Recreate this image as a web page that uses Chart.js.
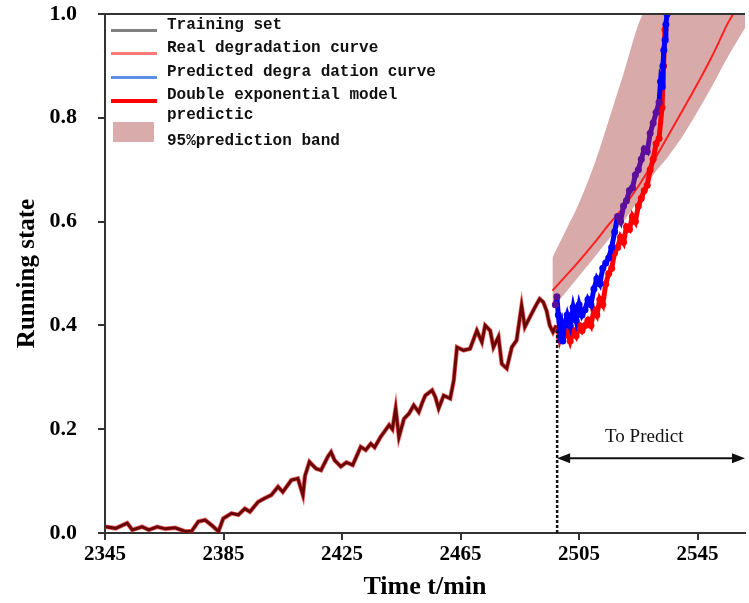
<!DOCTYPE html>
<html>
<head>
<meta charset="utf-8">
<script src="https://cdn.jsdelivr.net/npm/chart.js@4.4.1/dist/chart.umd.min.js"></script>
<style>
  html, body { margin: 0; padding: 0; background: #fff; }
  #wrap { position: relative; width: 749px; height: 603px; overflow: hidden; }
  #legend { position: absolute; left: 0; top: 0; font-family: "Liberation Mono", monospace; font-weight: bold; font-size: 16px; color: #111; }
  .row { position: absolute; left: 167px; white-space: nowrap; line-height: 20px; }
  .swatch { position: absolute; }
</style>
</head>
<body>
<div id="wrap">
  <canvas id="chart" width="749" height="603"></canvas>
  <div id="legend"></div>
</div>
<script>
// training period (t/min, running state)
const trainTime = [2345.2, 2348.6, 2352.5, 2354.2, 2357.5, 2359.8, 2362.6, 2365.4, 2368.7, 2372.1,
  2374.3, 2376.5, 2378.8, 2381, 2383.3, 2384.9, 2387.7, 2390, 2392.2, 2393.9,
  2396.7, 2398.9, 2401.1, 2403.4, 2405, 2407.9, 2410.1, 2411.8, 2412.5, 2414,
  2416.2, 2417.9, 2420.2, 2421.3, 2422.5, 2424.6, 2426.5, 2428.6, 2431.3, 2433,
  2434.7, 2436, 2438, 2440.9, 2442, 2443.1, 2444.2, 2445.9, 2447.6, 2449.2,
  2450.9, 2452, 2453.1, 2455.4, 2456.5, 2457.6, 2459.3, 2461.5, 2462.7, 2463.8,
  2466, 2468.2, 2470.5, 2472.2, 2473.3, 2475, 2476.1, 2477.8, 2478.9, 2480.6,
  2482.3, 2483.9, 2485.6, 2486.7, 2488.4, 2490.1, 2491.7, 2492.9, 2494, 2495.1,
  2496.2, 2497.3];
const trainValue = [0.012, 0.009, 0.019, 0.006, 0.012, 0.006, 0.012, 0.008, 0.010, 0.003,
  0.004, 0.022, 0.025, 0.015, 0.003, 0.028, 0.038, 0.035, 0.047, 0.041,
  0.060, 0.067, 0.073, 0.089, 0.079, 0.102, 0.105, 0.073, 0.110, 0.137,
  0.124, 0.121, 0.147, 0.156, 0.140, 0.128, 0.136, 0.131, 0.166, 0.160,
  0.172, 0.165, 0.185, 0.208, 0.200, 0.240, 0.185, 0.220, 0.230, 0.246,
  0.233, 0.250, 0.265, 0.275, 0.262, 0.240, 0.265, 0.259, 0.294, 0.358,
  0.352, 0.355, 0.390, 0.368, 0.400, 0.390, 0.358, 0.378, 0.326, 0.317,
  0.358, 0.371, 0.438, 0.397, 0.416, 0.435, 0.451, 0.445, 0.429, 0.400,
  0.387, 0.400];

// real degradation after the split
const realTime = [2498, 2498.5, 2499, 2500, 2501, 2502, 2503, 2504, 2505, 2506, 2507, 2508, 2509, 2510,
  2511, 2512, 2513, 2514, 2515, 2516, 2517, 2518, 2519, 2520, 2521, 2522, 2523, 2524,
  2525, 2526, 2527, 2528, 2529, 2530, 2531, 2532, 2533, 2533.5, 2534];
const realValue = [0.39, 0.375, 0.385, 0.38, 0.39, 0.37, 0.39, 0.38, 0.40, 0.39, 0.40, 0.41, 0.40, 0.43,
  0.42, 0.45, 0.44, 0.48, 0.50, 0.51, 0.54, 0.55, 0.57, 0.56, 0.59, 0.585, 0.61, 0.60,
  0.63, 0.645, 0.66, 0.67, 0.70, 0.72, 0.75, 0.76, 0.82, 0.90, 0.97];

// predicted degradation
const predTime = [2497, 2497.5, 2498, 2498.5, 2499, 2499.5, 2500, 2501, 2502, 2503, 2504, 2505, 2506,
  2507, 2508, 2509, 2510, 2511, 2512, 2513, 2514, 2515, 2516, 2517, 2518, 2519, 2520,
  2521, 2522, 2523, 2524, 2525, 2526, 2527, 2528, 2529, 2530, 2531, 2532, 2532.5, 2533,
  2533.3, 2533.6, 2534, 2534.3, 2534.7];
const predValue = [0.44, 0.455, 0.42, 0.39, 0.40, 0.37, 0.40, 0.42, 0.40, 0.435, 0.41, 0.44, 0.42,
  0.43, 0.45, 0.44, 0.47, 0.49, 0.48, 0.51, 0.52, 0.53, 0.55, 0.58, 0.61, 0.60, 0.63,
  0.64, 0.66, 0.665, 0.69, 0.70, 0.72, 0.74, 0.735, 0.77, 0.79, 0.81, 0.83, 0.87, 0.86,
  0.90, 0.93, 0.95, 0.98, 1.0];

// double exponential model and its 95% band
const modelTime = [2496, 2500, 2505, 2510, 2515, 2520, 2525, 2530, 2535, 2540, 2545, 2550, 2555, 2557, 2561];
const modelValue = [0.467, 0.492, 0.524, 0.558, 0.594, 0.628, 0.668, 0.715, 0.765, 0.815, 0.866, 0.92, 0.98, 1.0, 1.045];
const bandTime = [2496, 2500, 2505, 2510, 2515, 2520, 2526.5, 2530, 2535, 2540, 2545, 2550, 2555, 2561];
const bandUpper = [0.531, 0.577, 0.636, 0.708, 0.795, 0.885, 1.0, 1.0, 1.0, 1.0, 1.0, 1.0, 1.0, 1.0];
const bandLower = [0.435, 0.46, 0.495, 0.53, 0.566, 0.60, 0.655, 0.69, 0.725, 0.765, 0.812, 0.862, 0.915, 0.973];

const splitTime = 2497.6;
const splitTop = 0.39;
const arrowLevel = 0.144;
const noteLevel = 0.185;
const noteTime = 2527;

const xTickValues = [2345, 2385, 2425, 2465, 2505, 2545];
const overlapRange = [2517.5, 2532.2];

function zip(xs, ys) {
  return xs.map((x, i) => ({ x: x, y: ys[i] }));
}

const legendItems = [
  { label: "Training set", kind: "line", color: "#808080", width: 3 },
  { label: "Real degradation curve", kind: "line", color: "#ff7a7a", width: 3 },
  { label: "Predicted degra dation curve", kind: "line", color: "#5b8fe8", width: 3 },
  { label: "Double exponential model<br>predictic", kind: "line", color: "#ff0000", width: 4 },
  { label: "95%prediction band", kind: "box", color: "#d9abab" },
];

const legend = document.getElementById("legend");
let rowTop = 15;
legendItems.forEach((item) => {
  const row = document.createElement("div");
  row.className = "row";
  row.style.top = rowTop + "px";
  row.innerHTML = item.label;
  legend.appendChild(row);
  const sw = document.createElement("div");
  sw.className = "swatch";
  sw.style.background = item.color;
  if (item.kind === "line") {
    sw.style.left = "111px";
    sw.style.width = "46px";
    sw.style.height = item.width + "px";
    sw.style.top = (rowTop + 14) + "px";
  } else {
    sw.style.left = "113px";
    sw.style.width = "41px";
    sw.style.height = "20px";
    sw.style.top = (rowTop - 9) + "px";
  }
  legend.appendChild(sw);
  rowTop += item.label.includes("<br>") ? 46.5 : 23.3;
});

const inOverlap = (x) => x <= 2497.5 || (x >= overlapRange[0] && x <= overlapRange[1]);

const extras = {
  id: "extras",
  afterDatasetsDraw(chart) {
    const { ctx, chartArea, scales } = chart;
    const x = scales.x, y = scales.y;
    ctx.save();
    // top frame
    ctx.strokeStyle = "#333";
    ctx.lineWidth = 2;
    ctx.beginPath();
    ctx.moveTo(chartArea.left, chartArea.top);
    ctx.lineTo(chartArea.right, chartArea.top);
    ctx.stroke();
    // double arrow
    const ax0 = x.getPixelForValue(splitTime);
    const ax1 = chartArea.right;
    const ay = y.getPixelForValue(arrowLevel);
    ctx.strokeStyle = "#111";
    ctx.fillStyle = "#111";
    ctx.lineWidth = 2;
    ctx.beginPath();
    ctx.moveTo(ax0 + 4, ay);
    ctx.lineTo(ax1 - 4, ay);
    ctx.stroke();
    ctx.beginPath();
    ctx.moveTo(ax0, ay);
    ctx.lineTo(ax0 + 13, ay - 5);
    ctx.lineTo(ax0 + 13, ay + 5);
    ctx.closePath();
    ctx.fill();
    ctx.beginPath();
    ctx.moveTo(ax1, ay);
    ctx.lineTo(ax1 - 13, ay - 5);
    ctx.lineTo(ax1 - 13, ay + 5);
    ctx.closePath();
    ctx.fill();
    ctx.font = '19px "Liberation Serif"';
    ctx.textAlign = "center";
    ctx.textBaseline = "middle";
    ctx.fillText("To Predict", x.getPixelForValue(noteTime), y.getPixelForValue(noteLevel));
    ctx.restore();
  },
};

const serif = "Liberation Serif";

new Chart(document.getElementById("chart"), {
  type: "line",
  data: {
    datasets: [
      {
        data: [{ x: splitTime, y: 0 }, { x: splitTime, y: splitTop }],
        borderColor: "#111", borderWidth: 2.5, borderDash: [3, 2], pointRadius: 0, order: 0,
      },
      {
        data: zip(predTime, predValue),
        borderColor: "#0000ff", borderWidth: 5, pointRadius: 3.5, pointBorderWidth: 0,
        pointBackgroundColor: (c) => (c.raw && inOverlap(c.raw.x) ? "#5c0f9a" : "#0000ff"),
        segment: { borderColor: (c) => (inOverlap(c.p0.parsed.x) && inOverlap(c.p1.parsed.x) ? "#5c0f9a" : "#0000ff") },
        order: 1,
      },
      {
        data: zip(realTime, realValue),
        borderColor: "#ff0000", borderWidth: 5, pointRadius: 3.5, pointBorderWidth: 0,
        pointBackgroundColor: "#ff0000", order: 2,
      },
      {
        data: zip(trainTime, trainValue),
        borderColor: "#6b0606", borderWidth: 3, pointRadius: 0, order: 3,
      },
      {
        data: zip(trainTime, trainValue),
        borderColor: "rgba(230,40,40,0.7)", borderWidth: 4.5, pointRadius: 0, order: 4,
      },
      {
        data: zip(modelTime, modelValue),
        borderColor: "#ff2020", borderWidth: 2, pointRadius: 0, tension: 0.4, order: 5,
      },
      {
        data: zip(bandTime, bandUpper),
        borderWidth: 0, pointRadius: 0, tension: 0.3, fill: "+1",
        backgroundColor: "rgb(217,170,170)", order: 6,
      },
      {
        data: zip(bandTime, bandLower),
        borderWidth: 0, pointRadius: 0, tension: 0.3, order: 7,
      },
    ],
  },
  options: {
    responsive: false,
    animation: false,
    layout: { padding: { top: 14, right: 0, left: 0, bottom: 0 } },
    plugins: { legend: { display: false }, tooltip: { enabled: false } },
    scales: {
      x: {
        type: "linear",
        min: 2345,
        max: 2561,
        afterBuildTicks: (s) => { s.ticks = xTickValues.map((v) => ({ value: v })); },
        afterFit: (s) => { s.height = 70; s.paddingLeft = 0; s.paddingRight = 0; },
        grid: { drawOnChartArea: false, tickLength: 7, tickColor: "#333", lineWidth: 2 },
        border: { color: "#333", width: 2 },
        ticks: { autoSkip: false, maxRotation: 0, padding: 2, color: "#000", callback: (v) => String(v), font: { family: serif, size: 21, weight: "bold" } },
        title: { display: true, text: "Time t/min", color: "#000", padding: { top: 0, bottom: 0 }, font: { family: serif, size: 26, weight: "bold" } },
      },
      y: {
        min: 0,
        max: 1,
        afterFit: (s) => { s.width = 105; s.paddingTop = 0; s.paddingBottom = 0; },
        grid: { drawOnChartArea: false, tickLength: 7, tickColor: "#333", lineWidth: 2 },
        border: { color: "#333", width: 2 },
        ticks: { stepSize: 0.2, padding: 21, color: "#000", callback: (v) => v.toFixed(1), font: { family: serif, size: 22, weight: "bold" } },
        title: { display: true, text: "Running state", color: "#000", padding: { top: 13, bottom: 0 }, font: { family: serif, size: 25, weight: "bold" } },
      },
    },
  },
  plugins: [extras],
});
</script>
</body>
</html>
